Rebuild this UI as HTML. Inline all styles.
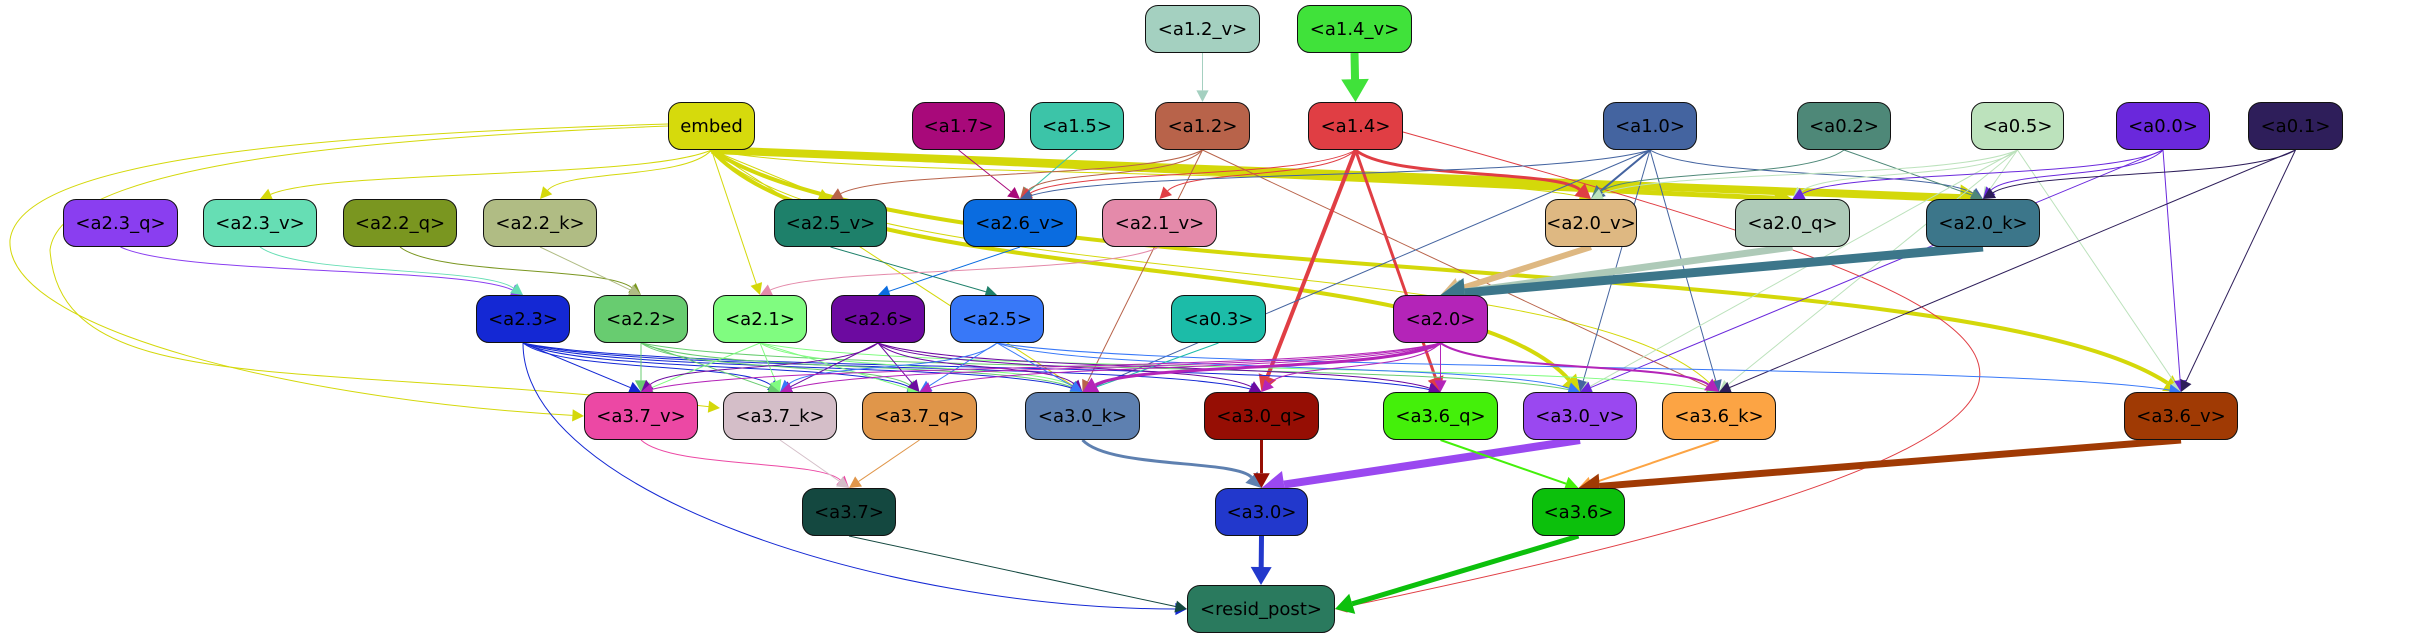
<!DOCTYPE html>
<html><head><meta charset="utf-8">
<style>
html,body{margin:0;padding:0;background:#fff;}
#c{position:relative;width:2413px;height:635px;overflow:hidden;background:#fff;}
svg{position:absolute;left:0;top:0;}
.n{position:absolute;box-sizing:border-box;border:1.3px solid #111;border-radius:13px;display:flex;align-items:center;justify-content:center;font-family:"DejaVu Sans","Liberation Sans",sans-serif;font-size:18px;color:#000;height:48px;white-space:nowrap;}
</style></head><body>
<div id="c">
<svg id="s" width="2413" height="635" viewBox="0 0 2413 635"></svg>
<div class="n" style="left:1145px;top:5px;width:115px;background:#a4d0c0">&lt;a1.2_v&gt;</div>
<div class="n" style="left:1297px;top:5px;width:115px;background:#40e23a">&lt;a1.4_v&gt;</div>
<div class="n" style="left:668px;top:102px;width:87px;background:#d6da0c">embed</div>
<div class="n" style="left:912px;top:102px;width:93px;background:#a8097a">&lt;a1.7&gt;</div>
<div class="n" style="left:1030px;top:102px;width:94px;background:#3cc4a8">&lt;a1.5&gt;</div>
<div class="n" style="left:1155px;top:102px;width:95px;background:#b8634a">&lt;a1.2&gt;</div>
<div class="n" style="left:1308px;top:102px;width:95px;background:#e03e44">&lt;a1.4&gt;</div>
<div class="n" style="left:1603px;top:102px;width:94px;background:#4464a0">&lt;a1.0&gt;</div>
<div class="n" style="left:1797px;top:102px;width:94px;background:#4e8878">&lt;a0.2&gt;</div>
<div class="n" style="left:1971px;top:102px;width:93px;background:#bce2bc">&lt;a0.5&gt;</div>
<div class="n" style="left:2116px;top:102px;width:94px;background:#6a28dc">&lt;a0.0&gt;</div>
<div class="n" style="left:2248px;top:102px;width:95px;background:#2e1e5a">&lt;a0.1&gt;</div>

<div class="n" style="left:63px;top:199px;width:115px;background:#8a3ef0">&lt;a2.3_q&gt;</div>
<div class="n" style="left:203px;top:199px;width:114px;background:#66deb4">&lt;a2.3_v&gt;</div>
<div class="n" style="left:343px;top:199px;width:114px;background:#7a9620">&lt;a2.2_q&gt;</div>
<div class="n" style="left:483px;top:199px;width:114px;background:#b0bc84">&lt;a2.2_k&gt;</div>
<div class="n" style="left:774px;top:199px;width:113px;background:#1e806a">&lt;a2.5_v&gt;</div>
<div class="n" style="left:963px;top:199px;width:114px;background:#0a6ce0">&lt;a2.6_v&gt;</div>
<div class="n" style="left:1102px;top:199px;width:115px;background:#e48aaa">&lt;a2.1_v&gt;</div>
<div class="n" style="left:1545px;top:199px;width:92px;background:#deb882">&lt;a2.0_v&gt;</div>
<div class="n" style="left:1735px;top:199px;width:115px;background:#aecab8">&lt;a2.0_q&gt;</div>
<div class="n" style="left:1926px;top:199px;width:114px;background:#3c768a">&lt;a2.0_k&gt;</div>

<div class="n" style="left:476px;top:295px;width:94px;background:#1428d4">&lt;a2.3&gt;</div>
<div class="n" style="left:594px;top:295px;width:94px;background:#68cc70">&lt;a2.2&gt;</div>
<div class="n" style="left:713px;top:295px;width:94px;background:#80fc80">&lt;a2.1&gt;</div>
<div class="n" style="left:831px;top:295px;width:94px;background:#6c0aa0">&lt;a2.6&gt;</div>
<div class="n" style="left:950px;top:295px;width:94px;background:#3878f8">&lt;a2.5&gt;</div>
<div class="n" style="left:1171px;top:295px;width:95px;background:#1cbca8">&lt;a0.3&gt;</div>
<div class="n" style="left:1393px;top:295px;width:95px;background:#b424b8">&lt;a2.0&gt;</div>

<div class="n" style="left:584px;top:392px;width:114px;background:#ec48a4">&lt;a3.7_v&gt;</div>
<div class="n" style="left:723px;top:392px;width:114px;background:#d4bec8">&lt;a3.7_k&gt;</div>
<div class="n" style="left:862px;top:392px;width:115px;background:#e0964a">&lt;a3.7_q&gt;</div>
<div class="n" style="left:1025px;top:392px;width:115px;background:#5e80b0">&lt;a3.0_k&gt;</div>
<div class="n" style="left:1204px;top:392px;width:115px;background:#960e04">&lt;a3.0_q&gt;</div>
<div class="n" style="left:1383px;top:392px;width:115px;background:#44f00a">&lt;a3.6_q&gt;</div>
<div class="n" style="left:1523px;top:392px;width:114px;background:#9a48f0">&lt;a3.0_v&gt;</div>
<div class="n" style="left:1662px;top:392px;width:114px;background:#fca444">&lt;a3.6_k&gt;</div>
<div class="n" style="left:2124px;top:392px;width:114px;background:#a03a04">&lt;a3.6_v&gt;</div>

<div class="n" style="left:802px;top:488px;width:94px;background:#144840">&lt;a3.7&gt;</div>
<div class="n" style="left:1215px;top:488px;width:93px;background:#2238cc">&lt;a3.0&gt;</div>
<div class="n" style="left:1532px;top:488px;width:93px;background:#0cc00c">&lt;a3.6&gt;</div>
<div class="n" style="left:1187px;top:585px;width:148px;background:#2a7a5e">&lt;resid_post&gt;</div>
</div>
<script>
var N={
'a1.2_v':[1145,5,115],'a1.4_v':[1297,5,115],'embed':[668,102,87],'a1.7':[912,102,93],'a1.5':[1030,102,94],'a1.2':[1155,102,95],'a1.4':[1308,102,95],'a1.0':[1603,102,94],'a0.2':[1797,102,94],'a0.5':[1971,102,93],'a0.0':[2116,102,94],'a0.1':[2248,102,95],
'a2.3_q':[63,199,115],'a2.3_v':[203,199,114],'a2.2_q':[343,199,114],'a2.2_k':[483,199,114],'a2.5_v':[774,199,113],'a2.6_v':[963,199,114],'a2.1_v':[1102,199,115],'a2.0_v':[1545,199,92],'a2.0_q':[1735,199,115],'a2.0_k':[1926,199,114],
'a2.3':[476,295,94],'a2.2':[594,295,94],'a2.1':[713,295,94],'a2.6':[831,295,94],'a2.5':[950,295,94],'a0.3':[1171,295,95],'a2.0':[1393,295,95],
'a3.7_v':[584,392,114],'a3.7_k':[723,392,114],'a3.7_q':[862,392,115],'a3.0_k':[1025,392,115],'a3.0_q':[1204,392,115],'a3.6_q':[1383,392,115],'a3.0_v':[1523,392,114],'a3.6_k':[1662,392,114],'a3.6_v':[2124,392,114],
'a3.7':[802,488,94],'a3.0':[1215,488,93],'a3.6':[1532,488,93],'resid_post':[1187,585,148]};
var E=[
['a1.2_v','a1.2','#a4d0c0',1],['a1.4_v','a1.4','#40e23a',8],
['embed','a2.0_k','#d4d80a',8],['embed','a2.0_q','#d4d80a',5],['embed','a3.6_v','#d4d80a',4],['embed','a3.0_v','#d4d80a',4],
['embed','a2.3_v','#d4d80a',1],['embed','a2.2_k','#d4d80a',1],['embed','a2.5_v','#d4d80a',1],['embed','a2.0_v','#d4d80a',1],['embed','a3.7_v','#d4d80a',1],['embed','a3.7_k','#d4d80a',1],['embed','a2.1','#d4d80a',1],['embed','a3.0_k','#d4d80a',1],['embed','a3.6_k','#d4d80a',1],
['a1.7','a2.6_v','#a8097a',1],['a1.5','a2.6_v','#3cc4a8',1],
['a1.2','a2.5_v','#b8634a',1],['a1.2','a2.6_v','#b8634a',1],['a1.2','a3.0_k','#b8634a',1],['a1.2','a3.6_k','#b8634a',1],
['a1.4','a2.6_v','#e03e44',1],['a1.4','a2.1_v','#e03e44',1],['a1.4','a2.0_v','#e03e44',3],['a1.4','a3.0_q','#e03e44',4],['a1.4','a3.6_q','#e03e44',3],['a1.4','resid_post','#e03e44',1],
['a1.0','a2.6_v','#4464a0',1],['a1.0','a2.0_v','#4464a0',2],['a1.0','a2.0_k','#4464a0',1],['a1.0','a3.0_v','#4464a0',1],['a1.0','a3.6_k','#4464a0',1],['a1.0','a3.0_k','#4464a0',1],
['a0.2','a2.0_v','#4e8878',1],['a0.2','a2.0_k','#4e8878',1],
['a0.5','a2.0_v','#bce2bc',1],['a0.5','a2.0_q','#bce2bc',1],['a0.5','a2.0_k','#bce2bc',1],['a0.5','a3.6_v','#bce2bc',1],['a0.5','a3.0_v','#bce2bc',1],['a0.5','a3.6_k','#bce2bc',1],
['a0.0','a2.0_q','#6a28dc',1],['a0.0','a2.0_k','#6a28dc',1],['a0.0','a3.0_v','#6a28dc',1],['a0.0','a3.6_v','#6a28dc',1],
['a0.1','a2.0_k','#2e1e5a',1],['a0.1','a3.6_k','#2e1e5a',1],['a0.1','a3.6_v','#2e1e5a',1],
['a2.3_q','a2.3','#8a3ef0',1],['a2.3_v','a2.3','#66deb4',1],['a2.2_q','a2.2','#7a9620',1],['a2.2_k','a2.2','#b0bc84',1],
['a2.5_v','a2.5','#1e806a',1],['a2.6_v','a2.6','#0a6ce0',1],['a2.1_v','a2.1','#e48aaa',1],
['a2.0_v','a2.0','#deb882',6],['a2.0_q','a2.0','#aecab8',7],['a2.0_k','a2.0','#3c768a',9],
['a2.3','a3.7_v','#1428d4',1],['a2.3','a3.7_k','#1428d4',1],['a2.3','a3.7_q','#1428d4',1],['a2.3','a3.0_k','#1428d4',1],['a2.3','a3.0_q','#1428d4',1],['a2.3','a3.6_q','#1428d4',1],['a2.3','resid_post','#1428d4',1],
['a2.2','a3.7_v','#68cc70',1],['a2.2','a3.7_k','#68cc70',1],['a2.2','a3.7_q','#68cc70',1],['a2.2','a3.0_k','#68cc70',1],['a2.2','a3.0_v','#68cc70',1],
['a2.1','a3.7_v','#80fc80',1],['a2.1','a3.7_k','#80fc80',1],['a2.1','a3.7_q','#80fc80',1],['a2.1','a3.0_k','#80fc80',1],['a2.1','a3.6_k','#80fc80',1],
['a2.6','a3.7_v','#6c0aa0',1],['a2.6','a3.7_k','#6c0aa0',1],['a2.6','a3.7_q','#6c0aa0',1],['a2.6','a3.0_k','#6c0aa0',1],['a2.6','a3.6_q','#6c0aa0',1],['a2.6','a3.0_q','#6c0aa0',1],
['a2.5','a3.7_k','#3878f8',1],['a2.5','a3.7_q','#3878f8',1],['a2.5','a3.0_k','#3878f8',1],['a2.5','a3.0_v','#3878f8',1],['a2.5','a3.6_v','#3878f8',1],
['a0.3','a3.0_k','#1cbca8',1],
['a2.0','a3.0_k','#b424b8',3],['a2.0','a3.7_q','#b424b8',1],['a2.0','a3.7_k','#b424b8',1],['a2.0','a3.0_q','#b424b8',1],['a2.0','a3.6_q','#b424b8',1],['a2.0','a3.6_k','#b424b8',2],['a2.0','a3.7_v','#b424b8',1],
['a3.7_v','a3.7','#ec48a4',1],['a3.7_k','a3.7','#d4bec8',1],['a3.7_q','a3.7','#e0964a',1],
['a3.0_k','a3.0','#5e80b0',3],['a3.0_q','a3.0','#960e04',3],['a3.0_v','a3.0','#9a48f0',8],['a3.6_q','a3.6','#44f00a',2],['a3.6_k','a3.6','#fca444',2],['a3.6_v','a3.6','#a03a04',7],
['a3.7','resid_post','#144840',1],['a3.0','resid_post','#2238cc',5],['a3.6','resid_post','#0cc00c',5]];
var s=document.getElementById('s'),h='';
E.forEach(function(e){
 var a=N[e[0]],b=N[e[1]],w=e[3];
 var ax=a[0]+a[2]/2,ay=a[1]+48,bx=b[0]+b[2]/2,by=b[1];
 var c1x,c1y,c2x,c2y,pre='';
 if(e[0]=='embed'&&e[1]=='a3.7_v'){
   ax=668;ay=124;bx=584;by=416;
   pre='M'+ax+','+ay+' C300,135 20,160 10,240 ';
   ax=10;ay=240;c1x=5;c1y=330;c2x=300;c2y=400;
 } else if(e[0]=='embed'&&e[1]=='a3.7_k'){
   ax=668;ay=126;bx=720;by=408;
   pre='M'+ax+','+ay+' C320,140 60,170 50,250 ';
   ax=50;ay=250;c1x=60;c1y=400;c2x=300;c2y=360;
 } else if(e[1]=='resid_post'&&Math.abs(bx-ax)>60){
   by=b[1]+24;bx=bx+(ax<bx?-b[2]/2:b[2]/2);
   if(e[0]=='a1.4'){ax=a[0]+a[2];ay=a[1]+30;c1x=2000;c1y=300;c2x=2350;c2y=400;}
   else if(e[0]=='a2.3'){c1x=ax;c1y=ay+150;c2x=bx-300;c2y=by;}
   else {c1x=ax+(bx-ax)/3;c1y=ay+(by-ay)/3;c2x=ax+2*(bx-ax)/3;c2y=ay+2*(by-ay)/3;}
 } else {
   var dx0=bx-ax,dy=by-ay;
   if(Math.abs(dx0)<3.5*dy||w>=5){
     c1x=ax+dx0/3;c1y=ay+dy/3;c2x=ax+2*dx0/3;c2y=ay+2*dy/3;
   } else {
     c1x=ax+dx0*0.15;c1y=ay+dy*0.6;c2x=bx-dx0*0.15;c2y=by-dy*0.6;
   }
 }
 var al=10+w*1.6,aw=5+w*1.1;
 var dx=bx-c2x,ddy=by-c2y,L=Math.sqrt(dx*dx+ddy*ddy)||1;dx/=L;ddy/=L;
 var ex=bx-dx*al,ey=by-ddy*al;
 var d=pre?pre.replace(/ $/,'')+' C':'M'+ax+','+ay+' C';
 h+='<path d="'+d+c1x+','+c1y+' '+c2x+','+c2y+' '+ex+','+ey+'" fill="none" stroke="'+e[2]+'" stroke-width="'+w+'"/>';
 var px=-ddy,py=dx;
 h+='<polygon points="'+bx+','+by+' '+(ex+px*aw)+','+(ey+py*aw)+' '+(ex-px*aw)+','+(ey-py*aw)+'" fill="'+e[2]+'"/>';
});
s.innerHTML=h;
</script>
</body></html>
